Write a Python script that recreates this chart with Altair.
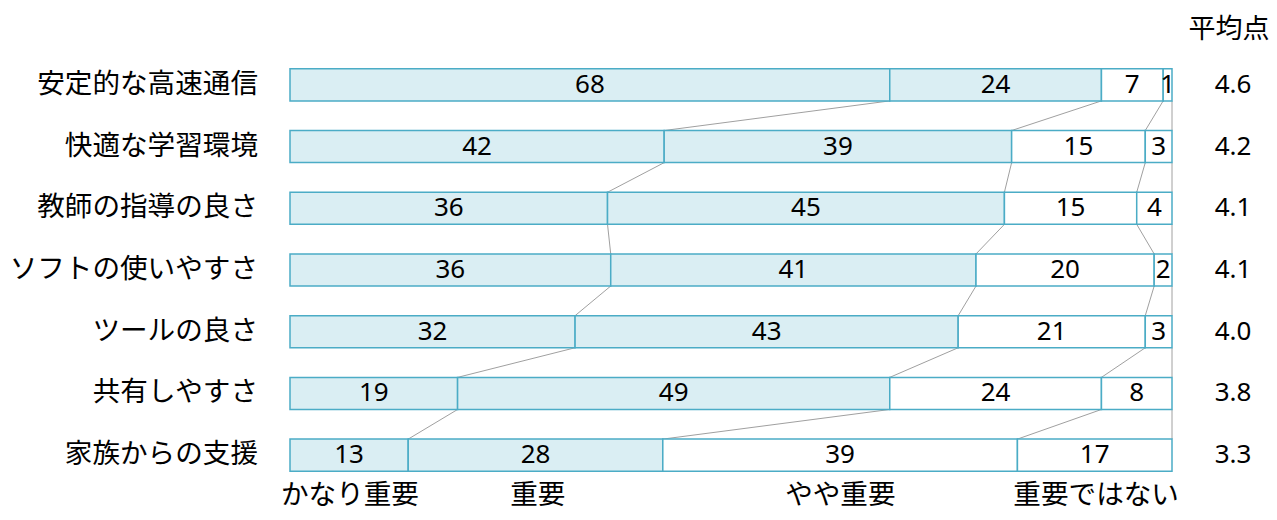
import altair as alt
import pandas as pd

# ---- data ----
categories = ["安定的な高速通信", "快適な学習環境", "教師の指導の良さ", "ソフトの使いやすさ",
              "ツールの良さ", "共有しやすさ", "家族からの支援"]
very_important = [68, 42, 36, 36, 32, 19, 13]
important = [24, 39, 45, 41, 43, 49, 28]
somewhat = [7, 15, 15, 20, 21, 24, 39]
not_important = [1, 3, 4, 2, 3, 8, 17]
averages = ["4.6", "4.2", "4.1", "4.1", "4.0", "3.8", "3.3"]
levels = ["かなり重要", "重要", "やや重要", "重要ではない"]
level_label_pos = [0.068, 0.281, 0.624, 0.914]

JP = "Noto Sans CJK JP"
NUM = "Noto Sans"
HALF = 0.26

series = [very_important, important, somewhat, not_important]
rows, cums = [], []
for i, c in enumerate(categories):
    vals = [s[i] for s in series]
    tot = sum(vals)
    cum = 0
    bounds = []
    for j, v in enumerate(vals):
        rows.append(dict(cat=c, idx=i, level=levels[j], value=v,
                         start=cum / tot, end=(cum + v) / tot,
                         mid=(cum + v / 2) / tot,
                         y0=i - HALF, y1=i + HALF))
        cum += v
        bounds.append(cum / tot)
    cums.append(bounds)
bars = pd.DataFrame(rows)

conn_rows = []
for i in range(len(categories) - 1):
    for j in range(4):
        conn_rows.append(dict(x=cums[i][j], x2=cums[i + 1][j], y=i + HALF, y2=i + 1 - HALF))
conn = pd.DataFrame(conn_rows)

cat_df = pd.DataFrame({"cat": categories, "idx": list(range(len(categories))), "avg": averages})
lvl_df = pd.DataFrame({"level": levels, "pos": level_label_pos})
head_df = pd.DataFrame({"t": ["平均点"]})

xs = alt.Scale(domain=[0, 1], nice=False, zero=False)
ys = alt.Scale(domain=[-0.5, 6.5], reverse=True, nice=False, zero=False)

connectors = alt.Chart(conn).mark_rule(color="#a0a0a0", strokeWidth=1).encode(
    x=alt.X("x:Q", scale=xs, axis=None), x2="x2:Q",
    y=alt.Y("y:Q", scale=ys, axis=None), y2="y2:Q")

bar_layer = alt.Chart(bars).mark_bar(stroke="#4bacc6", strokeWidth=1.5).encode(
    x=alt.X("start:Q", scale=xs, axis=None), x2="end:Q",
    y=alt.Y("y0:Q", scale=ys,
            axis=alt.Axis(domain=True, domainColor="#d9d9d9", domainWidth=1,
                          ticks=False, labels=False, grid=False, title=None)),
    y2="y1:Q",
    fill=alt.Fill("level:N", scale=alt.Scale(domain=levels,
                  range=["#daeef3", "#daeef3", "#ffffff", "#ffffff"]), legend=None))

seg_text = alt.Chart(bars).mark_text(font=NUM, fontSize=26, color="#000000", baseline="middle").encode(
    x=alt.X("mid:Q", scale=xs), y=alt.Y("idx:Q", scale=ys), text="value:Q")

cat_text = alt.Chart(cat_df).mark_text(font=JP, fontSize=27.6, color="#000000", align="right",
                                       baseline="middle").encode(
    x=alt.value(-32), y=alt.Y("idx:Q", scale=ys), text="cat:N")

avg_text = alt.Chart(cat_df).mark_text(font=NUM, fontSize=26, color="#000000", align="center",
                                       baseline="middle").encode(
    x=alt.value(943), y=alt.Y("idx:Q", scale=ys), text="avg:N")

head_text = alt.Chart(head_df).mark_text(font=JP, fontSize=27, color="#000000", align="center",
                                         baseline="middle").encode(
    x=alt.value(939), y=alt.value(-24), text="t:N")

lvl_text = alt.Chart(lvl_df).mark_text(font=JP, fontSize=27.6, color="#000000", align="center",
                                       baseline="middle").encode(
    x=alt.X("pos:Q", scale=xs), y=alt.value(442), text="level:N")

chart = alt.layer(connectors, bar_layer, seg_text, cat_text, avg_text, head_text, lvl_text).properties(
    width=882, height=432,
    autosize=alt.AutoSizeParams(type="none"),
    padding={"left": 282, "top": 46, "right": 97, "bottom": 26},
).configure_view(stroke=None)

chart.save("out.html", embed_options={"renderer": "svg", "actions": False})
